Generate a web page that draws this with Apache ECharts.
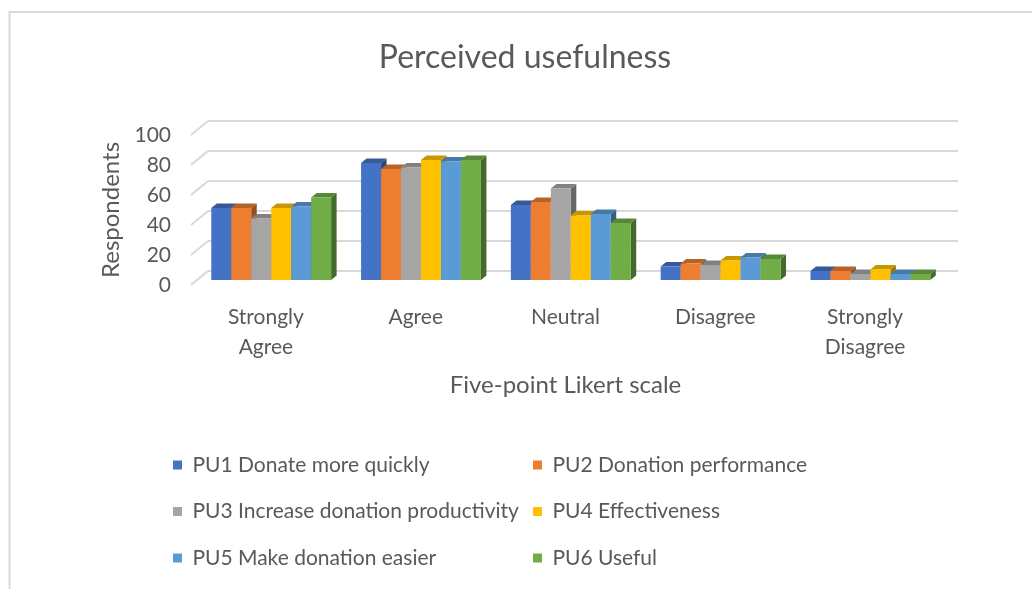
<!DOCTYPE html>
<html>
<head>
<meta charset="utf-8">
<script src="https://cdn.jsdelivr.net/npm/echarts@6/dist/echarts.min.js"></script>
<style>
html,body{margin:0;padding:0;background:#fff;}
#chart{width:1032px;height:589px;}
</style>
</head>
<body>
<div id="chart"></div>
<script>
// ---- data ----
const categories = ['Strongly\nAgree', 'Agree', 'Neutral', 'Disagree', 'Strongly\nDisagree'];
const seriesNames = [
  'PU1 Donate more quickly',
  'PU2 Donation performance',
  'PU3 Increase donation productivity',
  'PU4 Effectiveness',
  'PU5 Make donation easier',
  'PU6 Useful'
];
const pu1 = [48, 78, 50, 9, 6];
const pu2 = [48, 74, 52, 11, 6];
const pu3 = [41, 75, 61, 10, 4];
const pu4 = [48, 80, 43, 13, 7];
const pu5 = [49, 79, 44, 15, 4];
const pu6 = [55, 80, 38, 14, 4];
const yTicks = [0, 20, 40, 60, 80, 100];
const chartTitle = 'Perceived usefulness';
const xAxisTitle = 'Five-point Likert scale';
const yAxisTitle = 'Respondents';

// ---- style ----
const seriesValues = [pu1, pu2, pu3, pu4, pu5, pu6];
const colors = ['#4472C4', '#ED7D31', '#A5A5A5', '#FFC000', '#5B9BD5', '#70AD47'];
const FONT = 'Lato, "Liberation Sans", sans-serif';
const TXT = '#595959';
const DX = 5.5, DY = 4.5;

function shade(hex, f) {
  const n = parseInt(hex.slice(1), 16);
  const r = Math.round(((n >> 16) & 255) * f);
  const g = Math.round(((n >> 8) & 255) * f);
  const b = Math.round((n & 255) * f);
  return 'rgb(' + r + ',' + g + ',' + b + ')';
}

function makeBarRender(s) {
  const base = colors[s];
  return function (params, api) {
    const ci = api.value(0), v = api.value(1);
    const b = api.coord([ci, 0]);
    const t = api.coord([ci, v]);
    const band = api.size([1, 0])[0];
    const w = band * 0.8 / 6;
    const x0 = b[0] - band * 0.4 + s * w;
    const x1 = x0 + w;
    const ty = t[1], by = b[1];
    return {
      type: 'group',
      children: [
        { type: 'polygon', shape: { points: [[x1, ty], [x1 + DX, ty - DY], [x1 + DX, by - DY], [x1, by]] },
          style: { fill: shade(base, 0.62) } },
        { type: 'polygon', shape: { points: [[x0, ty], [x1, ty], [x1 + DX, ty - DY], [x0 + DX, ty - DY]] },
          style: { fill: shade(base, 0.78) } },
        { type: 'rect', shape: { x: x0, y: ty, width: w, height: by - ty },
          style: { fill: base } }
      ]
    };
  };
}

const barSeries = seriesValues.map((vals, s) => ({
  type: 'custom',
  name: seriesNames[s],
  xAxisIndex: 2,
  yAxisIndex: 2,
  itemStyle: { color: colors[s] },
  encode: { x: 0, y: 1 },
  data: vals.map((v, j) => [j, v]),
  renderItem: makeBarRender(s),
  z: 5
}));

const diagSeries = {
  type: 'custom',
  xAxisIndex: 1,
  yAxisIndex: 1,
  silent: true,
  data: yTicks.map(v => [0, v]),
  encode: { x: 0, y: 1 },
  renderItem: function (params, api) {
    const p = api.coord([0, api.value(1)]);
    const x = params.coordSys.x;
    return {
      type: 'line',
      shape: { x1: x, y1: p[1], x2: x + 17, y2: p[1] - 14 },
      style: { stroke: '#d9d9d9', lineWidth: 2 }
    };
  },
  z: 1
};

const legendText = { fontSize: 21, color: TXT, fontFamily: FONT, lineHeight: 24 };

const option = {
  animation: false,
  color: colors,
  graphic: [
    { type: 'rect', silent: true, shape: { x: 9.5, y: 12, width: 1100, height: 700 },
      style: { fill: 'transparent', stroke: '#d9d9d9', lineWidth: 2 } },
    { type: 'text', x: 525, y: 58, silent: true,
      style: { text: chartTitle, fontSize: 32, fontFamily: FONT, fill: TXT, align: 'center', verticalAlign: 'middle' } }
  ],
  grid: [
    { left: 208, right: 74, top: 120.5, bottom: 318 },
    { left: 191, right: 92, top: 135, bottom: 304 },
    { left: 196.3, right: 86.7, top: 130, bottom: 309 }
  ],
  xAxis: [
    { gridIndex: 0, type: 'value', min: 0, max: 1, show: false },
    { gridIndex: 1, type: 'category', data: categories,
      axisLine: { show: false }, axisTick: { show: false }, splitLine: { show: false },
      axisLabel: { margin: 17, lineHeight: 30, fontSize: 21, color: TXT, fontFamily: FONT, interval: 0 },
      name: xAxisTitle, nameLocation: 'middle', nameGap: 88,
      nameTextStyle: { fontSize: 24, color: TXT, fontFamily: FONT } },
    { gridIndex: 2, type: 'category', data: categories, show: false }
  ],
  yAxis: [
    { gridIndex: 0, type: 'value', min: 0, max: 100, interval: 20,
      axisLabel: { show: false }, axisLine: { show: false }, axisTick: { show: false },
      splitLine: { lineStyle: { color: '#d9d9d9', width: 2 } } },
    { gridIndex: 1, type: 'value', min: 0, max: 100, interval: 20,
      axisLine: { show: false }, axisTick: { show: false }, splitLine: { show: false },
      axisLabel: { margin: 20, fontSize: 21, color: TXT, fontFamily: FONT },
      name: yAxisTitle, nameLocation: 'middle', nameRotate: 90, nameGap: 67,
      nameTextStyle: { fontSize: 24, color: TXT, fontFamily: FONT } },
    { gridIndex: 2, type: 'value', min: 0, max: 100, show: false }
  ],
  legend: [
    { data: [seriesNames[0], seriesNames[2], seriesNames[4]], orient: 'vertical',
      left: 173, top: 453, padding: 0, itemWidth: 9, itemHeight: 9, itemGap: 22.5,
      icon: 'rect', textStyle: legendText, formatter: n => ' ' + n },
    { data: [seriesNames[1], seriesNames[3], seriesNames[5]], orient: 'vertical',
      left: 533, top: 453, padding: 0, itemWidth: 9, itemHeight: 9, itemGap: 22.5,
      icon: 'rect', textStyle: legendText, formatter: n => ' ' + n }
  ],
  series: [diagSeries].concat(barSeries)
};

const chart = echarts.init(document.getElementById('chart'));
chart.setOption(option);
</script>
</body>
</html>
